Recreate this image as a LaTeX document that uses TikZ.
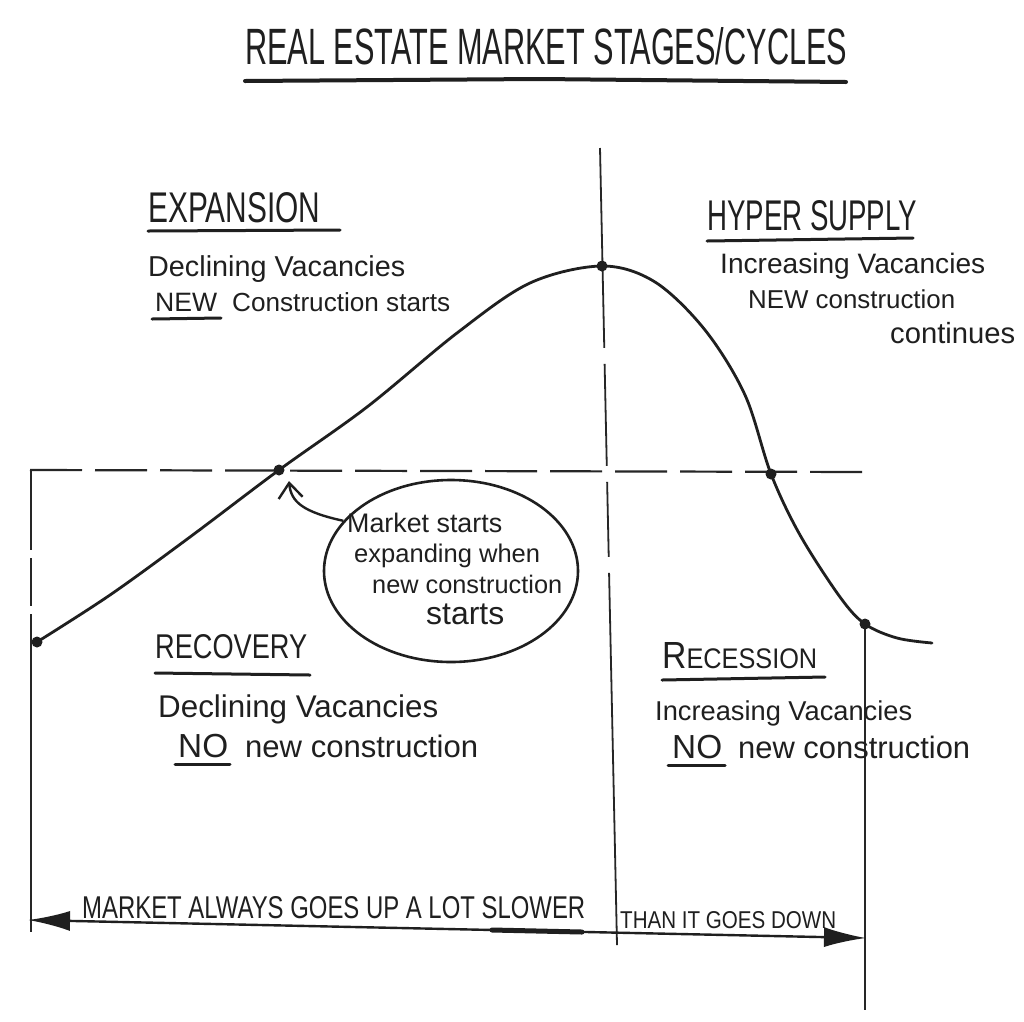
\documentclass[tikz,border=0pt]{standalone}
\usepackage{fontspec}
\setmainfont{Liberation Sans}
\usepackage{graphicx}
\usetikzlibrary{arrows.meta,shapes.geometric}
\newcommand\fitwh[3]{\resizebox{#1}{#2}{#3}}
\newcommand\fitw[2]{\resizebox{#1}{!}{#2}}
\begin{document}
\begin{tikzpicture}[x=1pt,y=-1pt,
  txt/.style={anchor=base west,inner sep=0pt,text=black!88,font=\fontsize{28}{32}\selectfont},
  uline/.style={draw=black!88,line width=3pt,line cap=round},
  dotm/.style={circle,fill=black!88,inner sep=0pt,minimum size=11pt},
  curveline/.style={draw=black!88,line width=2.8pt,line cap=round},
  guide/.style={draw=black!85,line width=1.8pt},
  dashguide/.style={draw=black!85,line width=2.2pt,dash pattern=on 52pt off 13pt},
]
\useasboundingbox[fill=white] (0,0) rectangle (1024,1021);

% title
\node[txt] (title) at (245,64) {\fitwh{602pt}{37pt}{REAL ESTATE MARKET STAGES/CYCLES}};
\draw[uline,line width=4pt] (245,81) -- (540,79) -- (846,82);

% guide lines
\coordinate (vTop) at (600,148);
\coordinate (vBot) at (617,945);
\draw[guide,dash pattern=on 200pt off 16pt on 102pt off 16pt on 75pt off 16pt on 380pt] (vTop) -- (vBot);
\coordinate (hL) at (30,470);
\coordinate (hR) at (868,472);
\draw[dashguide] (hL) -- (hR);
\coordinate (lTop) at (31,470);
\coordinate (lBot) at (31,932);
\draw[guide,dash pattern=on 80pt off 8pt on 48pt off 8pt on 400pt] (lTop) -- (lBot);
\coordinate (rTop) at (865,628);
\coordinate (rBot) at (865,1010);
\draw[guide,line width=1.4pt] (rTop) -- (rBot);

% curve
\coordinate (p1) at (37,642);
\coordinate (p2) at (279,470);
\coordinate (p3) at (602,266);
\coordinate (p4) at (771,474);
\coordinate (p5) at (865,624);
\coordinate (pEnd) at (932,643);
\draw[curveline] plot[smooth,tension=0.55] coordinates {(p1) (110,595) (190,537) (p2) (367,407) (457,333) (530,283) (p3) (655,282) (705,330) (745,395) (p4) (800,535) (840,597) (p5) (897,638) (pEnd)};
\foreach \p in {p1,p2,p3,p4,p5} \node[dotm] (d\p) at (\p) {};

% EXPANSION
\node[txt] (expH) at (148,222) {\fitwh{172pt}{30pt}{EXPANSION}};
\draw[uline] (148,231) -- (340,230);
\node[txt] (exp1) at (148,276) {\fitw{257pt}{Declining Vacancies}};
\node[txt] (exp2a) at (155,311) {\fitw{62pt}{NEW}};
\draw[uline] (152,319) -- (221,318);
\node[txt] (exp2b) at (232,311) {\fitw{218pt}{Construction starts}};

% HYPER SUPPLY
\node[txt] (hypH) at (707,230) {\fitwh{210pt}{30pt}{HYPER SUPPLY}};
\draw[uline] (707,241) -- (913,238);
\node[txt] (hyp1) at (720,273) {\fitw{265pt}{Increasing Vacancies}};
\node[txt] (hyp2) at (748,308) {\fitw{207pt}{NEW construction}};
\node[txt] (hyp3) at (890,343) {\fitw{125pt}{continues}};

% RECOVERY
\node[txt] (recH) at (155,658) {\fitwh{152pt}{24pt}{RECOVERY}};
\draw[uline] (155,673) -- (310,675);
\node[txt] (rec1) at (158,717) {\fitw{280pt}{Declining Vacancies}};
\node[txt] (rec2a) at (178,757) {\fitw{50pt}{NO}};
\draw[uline] (175,764) -- (230,764);
\node[txt] (rec2b) at (245,757) {\fitw{233pt}{new construction}};

% RECESSION
\node[txt] (resH) at (662,668) {\fitwh{155pt}{26pt}{R{\fontsize{21}{24}\selectfont ECESSION}}};
\draw[uline] (662,680) -- (825,677);
\node[txt] (res1) at (655,720) {\fitw{257pt}{Increasing Vacancies}};
\node[txt] (res2a) at (672,758) {\fitw{50pt}{NO}};
\draw[uline] (668,765) -- (725,765);
\node[txt] (res2b) at (738,758) {\fitw{232pt}{new construction}};

% bubble
\node[draw=black!88,line width=2.6pt,ellipse,minimum width=254pt,minimum height=182pt] (bubble) at (451,571) {};
\node[txt] (b1) at (347,532) {\fitw{155pt}{Market starts}};
\node[txt] (b2) at (354,562) {\fitw{186pt}{expanding when}};
\node[txt] (b3) at (372,593) {\fitw{190pt}{new construction}};
\node[txt] (b4) at (426,624) {\fitw{78pt}{starts}};
\coordinate (tip) at (289,481);
\draw[draw=black!88,line width=2.4pt,-{Straight Barb[length=15pt,width=24pt]}] (bubble.155) .. controls (303,512) and (291,502) .. (tip);

% bottom arrow
\coordinate (aL) at (28,920);
\coordinate (aR) at (866,938);
\draw[draw=black!88,fill=black!88,line width=2.4pt,{Latex[length=42pt,width=20pt]}-{Latex[length=42pt,width=20pt]}] (aL) -- (aR);
\node[txt] (bot1) at (82,918) {\fitwh{503pt}{22pt}{MARKET ALWAYS GOES UP A LOT SLOWER}};
\draw[uline,line width=5pt] (492,930) -- (582,932);
\node[txt] (bot2) at (620,928) {\fitwh{216pt}{17pt}{THAN IT GOES DOWN}};
\end{tikzpicture}
\end{document}
